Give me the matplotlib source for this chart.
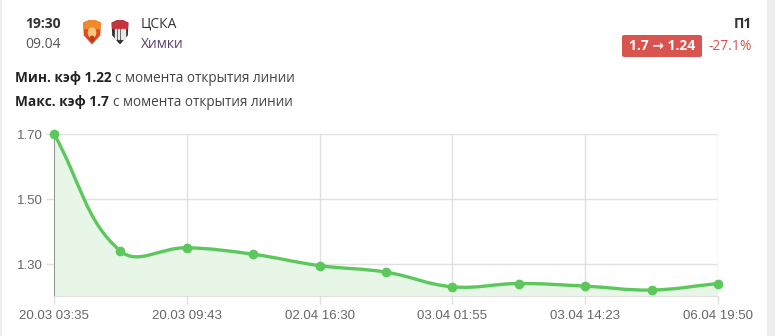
import numpy as np
import matplotlib
matplotlib.use("Agg")
from matplotlib import pyplot as plt
from matplotlib.path import Path
from matplotlib.patches import PathPatch, FancyBboxPatch, Polygon, Circle, Rectangle

# data
labels = ["20.03 03:35", "", "20.03 09:43", "", "02.04 16:30", "",
          "03.04 01:55", "", "03.04 14:23", "", "06.04 19:50"]
odds = [1.70, 1.34, 1.35, 1.33, 1.295, 1.275, 1.23, 1.24, 1.232, 1.22, 1.24]
yticks = [1.30, 1.50, 1.70]

match_time = "19:30"
match_date = "09.04"
team_home = "ЦСКА"
team_away = "Химки"
market = "П1"
odd_open, odd_now, change = "1.7", "1.24", "-27.1%"
min_odd, max_odd = "1.22", "1.7"

GREEN = "#5cc85c"
FILL = "#e8f6e8"
GRID = "#e0e0e0"
RED = "#d9534f"

W, H = 775, 336
fig = plt.figure(figsize=(W / 100, H / 100), dpi=100)
fig.patch.set_facecolor("white")

def fx(px):
    return px / W

def fy(py):
    return 1 - py / H

# gray strip at the right, thin border at the left
fig.add_artist(Rectangle((fx(767), 0), 1 - fx(767), 1, transform=fig.transFigure,
                         color="#eeeeee", lw=0))
fig.add_artist(Rectangle((0, 0), fx(2), 1, transform=fig.transFigure,
                         color="#eeeeee", lw=0))

ax = fig.add_axes([fx(54), fy(296), fx(718) - fx(54), fy(134) - fy(296)])
x = np.arange(len(odds))
ax.set_xlim(0, len(odds) - 1)
ax.set_ylim(1.2016, 1.70)

# Chart.js style bezier (tension 0.4) computed in pixel space
fig.canvas.draw()
pts = ax.transData.transform(np.column_stack([x, odds]))
t = 0.4
verts = [pts[0]]
codes = [Path.MOVETO]
ctrl = []
for i in range(len(pts)):
    prev = pts[i - 1] if i > 0 else pts[i]
    nxt = pts[i + 1] if i < len(pts) - 1 else pts[i]
    cur = pts[i]
    d01 = np.hypot(*(cur - prev))
    d12 = np.hypot(*(nxt - cur))
    tot = d01 + d12 if d01 + d12 > 0 else 1
    fa = t * d01 / tot
    fb = t * d12 / tot
    ctrl.append((cur - fa * (nxt - prev), cur + fb * (nxt - prev)))
for i in range(1, len(pts)):
    verts += [ctrl[i - 1][1], ctrl[i][0], pts[i]]
    codes += [Path.CURVE4] * 3
verts = ax.transData.inverted().transform(np.array(verts))

curve = Path(verts, codes)
fill_verts = np.vstack([verts, [[x[-1], 1.2016], [x[0], 1.2016], verts[0]]])
fill_codes = codes + [Path.LINETO, Path.LINETO, Path.CLOSEPOLY]
ax.add_patch(PathPatch(Path(fill_verts, fill_codes), facecolor=FILL, lw=0, zorder=1))
ax.add_patch(PathPatch(curve, facecolor="none", edgecolor=GREEN, lw=2.4, zorder=3,
                       capstyle="round", joinstyle="round"))
ax.plot(x, odds, "o", color=GREEN, ms=6, zorder=4, clip_on=False)

ax.set_yticks(yticks)
ax.set_yticklabels([f"{v:.2f}" for v in yticks])
ax.set_xticks(x[::2])
ax.set_xticklabels(labels[::2])
ax.grid(True, color=GRID, lw=1)
ax.tick_params(axis="both", colors=GRID, labelcolor="#666666", labelsize=9.5, length=6, width=1)
ax.tick_params(axis="x", pad=4)
ax.tick_params(axis="y", pad=2)
for lab in ax.get_xticklabels() + ax.get_yticklabels():
    lab.set_fontfamily("Liberation Sans")
for side in ["top", "right"]:
    ax.spines[side].set_visible(False)
ax.spines["bottom"].set_color(GRID)
ax.spines["left"].set_color("#9a9a9a")
ax.set_axisbelow(True)

# header
ff = "Open Sans"
fig.text(fx(25), fy(24), match_time, fontsize=10, weight="bold", color="#333333",
         family=ff, va="center")
fig.text(fx(25), fy(44), match_date, fontsize=10, color="#555555", family=ff, va="center")
fig.text(fx(141), fy(24), team_home, fontsize=10, color="#333333", family=ff, va="center")
fig.text(fx(141), fy(45), team_away, fontsize=10, color="#5a3d6e", family=ff, va="center")

# logos as simple shields
def shield(cx, cy, w, h, face, top):
    s = fig.add_axes([fx(cx - w / 2), fy(cy + h / 2), fx(w), h / H])
    s.set_xlim(0, 1)
    s.set_ylim(0, 1)
    s.axis("off")
    s.add_patch(Polygon([[0.05, 0.85], [0.5, 1.0], [0.95, 0.85], [0.92, 0.35],
                         [0.5, 0.0], [0.08, 0.35]], closed=True, color=face))
    s.add_patch(Polygon([[0.05, 0.85], [0.5, 1.0], [0.95, 0.85], [0.94, 0.62],
                         [0.06, 0.62]], closed=True, color=top))
    return s

s1 = shield(92, 31.5, 18, 24, "#e24a1c", "#f08a2a")
s1.add_patch(Circle((0.5, 0.45), 0.2, color="#f6c67a"))
s1.add_patch(Circle((0.5, 0.2), 0.1, color="#b83a2a"))
s2 = shield(120, 31.5, 17, 24, "#2e2e2e", "#c8323a")
for k in range(4):
    s2.add_patch(Rectangle((0.22 + k * 0.16, 0.18), 0.07, 0.42, color="#e8e8e8"))

fig.text(fx(752), fy(24), market, fontsize=10, weight="bold", color="#333333",
         family=ff, ha="right", va="center")
fig.add_artist(FancyBboxPatch((fx(622), fy(57)), fx(80), fy(35) - fy(57),
                              boxstyle="round,pad=0,rounding_size=0.004",
                              transform=fig.transFigure, color=RED, lw=0))
fig.text(fx(662), fy(46.5), f"{odd_open} → {odd_now}", fontsize=10, weight="bold",
         color="white", family=["Open Sans", "DejaVu Sans"], ha="center", va="center")
fig.text(fx(752), fy(46), change, fontsize=10, color=RED, family=ff, ha="right",
         va="center")

for py, lbl, val in [(78, "Мин. кэф", min_odd), (102, "Макс. кэф", max_odd)]:
    t1 = fig.text(fx(15), fy(py), f"{lbl} {val}", fontsize=9.8, weight="bold",
                  color="#222222", family=ff, va="center")
    fig.canvas.draw()
    bb = t1.get_window_extent()
    fig.text(fx(bb.x1 + 4), fy(py), "с момента открытия линии", fontsize=9.8,
             color="#444444", family=ff, va="center")

fig.savefig("out.png", dpi=100, facecolor="white")
